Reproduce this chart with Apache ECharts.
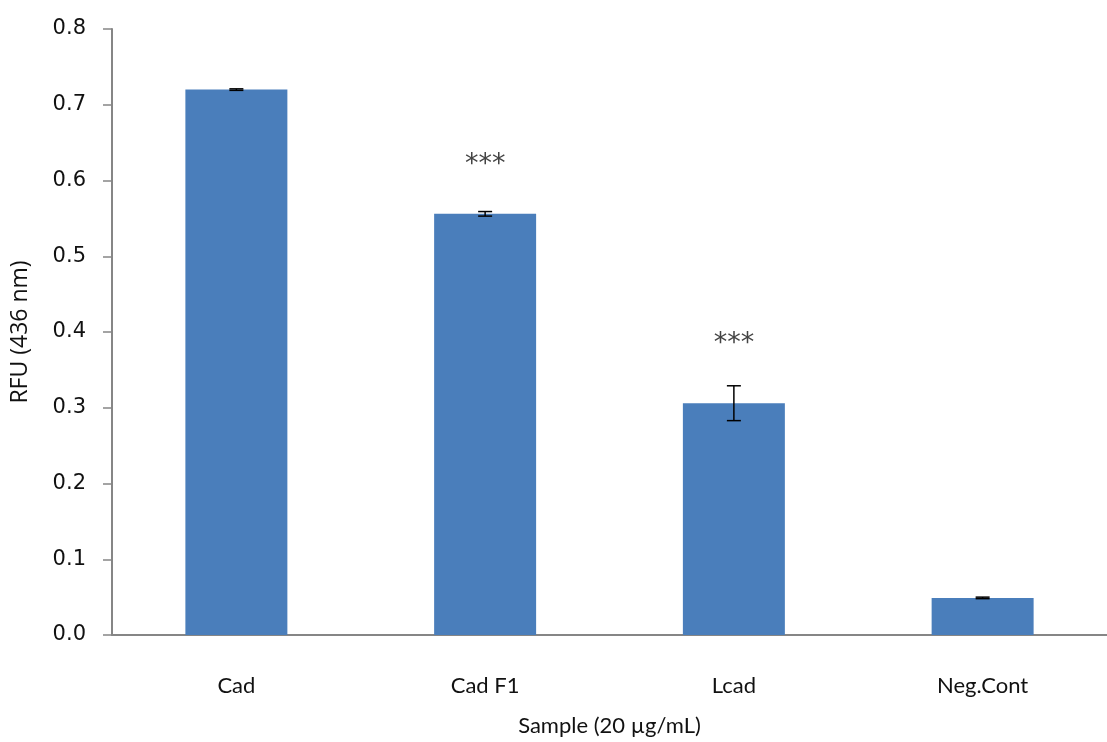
<!DOCTYPE html>
<html><head><meta charset="utf-8">
<script src="https://cdn.jsdelivr.net/npm/echarts@6/dist/echarts.min.js"></script>
<style>html,body{margin:0;padding:0;background:#fff}#c{width:1107px;height:742px}</style>
</head><body><div id="c"></div>
<script>
const categories = ['Cad', 'Cad F1', 'Lcad', 'Neg.Cont'];
const values = [0.720, 0.556, 0.306, 0.049];
const errors = [0.001, 0.003, 0.023, 0.001];
const stars = ['', '***', '***', ''];
const starLevels = [null, 0.62, 0.384, null];
const yTicks = ['0.0','0.1','0.2','0.3','0.4','0.5','0.6','0.7','0.8'];

const chart = echarts.init(document.getElementById('c'));
const axisColor = '#868686';
chart.setOption({
  animation: false,
  grid: {left: 112, right: 0, top: 29, bottom: 106},
  xAxis: {
    type: 'category', data: categories,
    axisLine: {lineStyle: {color: axisColor, width: 2}},
    axisTick: {show: false},
    axisLabel: {color: '#111', fontFamily: 'Lato', fontSize: 22, margin: 40},
    name: 'Sample (20 µg/mL)', nameLocation: 'middle', nameGap: 80,
    nameTextStyle: {color: '#111', fontFamily: 'Lato', fontSize: 22}
  },
  yAxis: {
    type: 'value', min: 0, max: 0.8, interval: 0.1,
    axisLine: {show: true, lineStyle: {color: axisColor, width: 2}},
    axisTick: {show: true, inside: false, length: 9, lineStyle: {color: axisColor, width: 1.5}},
    splitLine: {show: false},
    axisLabel: {color: '#111', fontFamily: 'DejaVu Sans', fontSize: 21, margin: 26,
      formatter: v => yTicks[Math.round(v * 10)]},
    name: 'RFU (436 nm)', nameLocation: 'middle', nameGap: 80, nameRotate: 90,
    nameTextStyle: {color: '#111', fontFamily: 'Open Sans', fontSize: 23}
  },
  series: [
    {
      type: 'bar', data: values, barWidth: '41%',
      itemStyle: {color: '#4a7ebb'}
    },
    {
      type: 'custom',
      data: values.map((v, i) => [i, v - errors[i], v + errors[i]]),
      renderItem: function (params, api) {
        const x = api.coord([api.value(0), 0])[0];
        const lo = api.coord([api.value(0), api.value(1)])[1];
        const hi = api.coord([api.value(0), api.value(2)])[1];
        const hw = 7;
        const style = {stroke: '#000', lineWidth: 1.5};
        return {type: 'group', children: [
          {type: 'line', shape: {x1: x, y1: lo, x2: x, y2: hi}, style},
          {type: 'line', shape: {x1: x - hw, y1: lo, x2: x + hw, y2: lo}, style},
          {type: 'line', shape: {x1: x - hw, y1: hi, x2: x + hw, y2: hi}, style}
        ]};
      },
      z: 5
    },
    {
      type: 'custom',
      data: starLevels.map((v, i) => [i, v === null ? 0 : v]),
      renderItem: function (params, api) {
        const i = params.dataIndex;
        if (!stars[i]) return null;
        const p = api.coord([api.value(0), api.value(1)]);
        return {type: 'text', x: p[0], y: p[1], style: {
          text: stars[i], fill: '#444', font: '27px "DejaVu Sans"',
          align: 'center', verticalAlign: 'middle'}};
      },
      z: 6
    }
  ]
});
</script></body></html>
